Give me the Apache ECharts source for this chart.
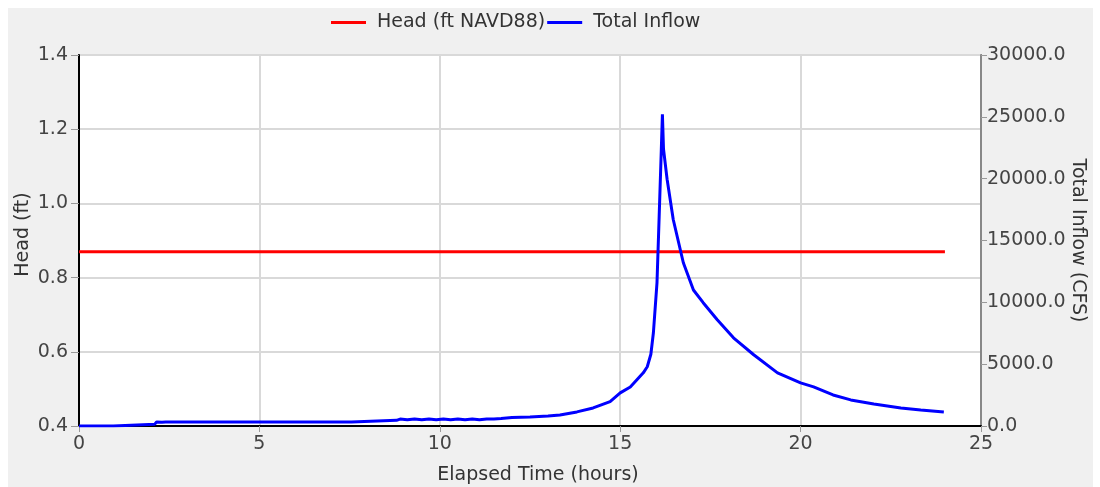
<!DOCTYPE html>
<html>
<head>
<meta charset="utf-8">
<script src="https://cdn.jsdelivr.net/npm/echarts@6/dist/echarts.min.js"></script>
<style>
  html, body { margin: 0; padding: 0; background: #fff; }
  #chart { position: absolute; left: 8px; top: 8px; width: 1085px; height: 479px; background: #f0f0f0; }
</style>
</head>
<body>
<div id="chart"></div>
<script>
// elapsed time (hours) and total inflow (CFS)
var hours = [0, 0.95, 1.0, 2.1, 2.15, 2.3, 2.4, 7.55, 7.6, 8.8, 8.9, 9.1, 9.3, 9.5, 9.7, 9.9,
    10.1, 10.3, 10.5, 10.7, 10.9, 11.1, 11.3, 11.5, 11.7, 12.0, 12.5, 13.0, 13.33, 13.8, 14.25,
    14.72, 15.0, 15.28, 15.64, 15.75, 15.85, 15.92, 16.02, 16.08, 16.14, 16.17, 16.2, 16.3,
    16.47, 16.75, 17.03, 17.3, 17.69, 18.14, 18.7, 19.36, 20.0, 20.36, 20.9, 21.39, 22.03,
    22.78, 23.33, 23.97];
var inflow = [0, 0, 150, 150, 320, 300, 320, 320, 450, 460, 560, 500, 570, 500, 570, 510,
    570, 510, 570, 510, 570, 510, 570, 560, 600, 680, 720, 800, 890, 1140, 1460,
    1970, 2680, 3160, 4300, 4790, 5800, 7540, 11600, 16950, 22400, 25200, 22400, 19950,
    16700, 13200, 11000, 9970, 8590, 7130, 5760, 4300, 3490, 3160, 2510, 2110, 1780,
    1460, 1300, 1130];
var headHours = [0, 24];
var head = [0.87, 0.87];

var font = '"DejaVu Sans", sans-serif';

var chart = echarts.init(document.getElementById('chart'));
chart.setOption({
    animation: false,
    textStyle: { fontFamily: font },
    legend: {
        top: 0,
        left: 318,
        itemGap: 2,
        itemWidth: 35,
        itemHeight: 3,
        icon: 'rect',
        textStyle: { fontSize: 19, color: '#333', fontFamily: font, padding: [0, 0, 0, 6] },
        data: ['Head (ft NAVD88)', 'Total Inflow']
    },
    grid: {
        left: 71,
        right: 112,
        top: 47,
        bottom: 61,
        outerBoundsMode: 'none',
        containLabel: false,
        show: true,
        backgroundColor: '#fff',
        borderColor: '#888',
        borderWidth: 2
    },
    xAxis: {
        type: 'value',
        min: 0,
        max: 25,
        interval: 5,
        name: 'Elapsed Time (hours)',
        nameLocation: 'middle',
        nameGap: 40,
        nameMoveOverlap: false,
        nameTextStyle: { fontSize: 19, color: '#333', padding: [0, 0, 0, 16] },
        axisLine: { lineStyle: { color: '#000', width: 2 } },
        axisTick: { show: true, length: 6, lineStyle: { color: '#999' } },
        axisLabel: { fontSize: 19, color: '#444', margin: 9 },
        splitLine: { show: true, lineStyle: { color: '#d9d9d9', width: 2 } }
    },
    yAxis: [{
        type: 'value',
        min: 0.4,
        max: 1.4,
        interval: 0.2,
        name: 'Head (ft)',
        nameLocation: 'middle',
        nameGap: 46,
        nameMoveOverlap: false,
        nameTextStyle: { fontSize: 19, color: '#333', padding: [0, 0, 0, 12] },
        axisLine: { show: true, lineStyle: { color: '#000', width: 2 } },
        axisTick: { show: true, length: 8, lineStyle: { color: '#999' } },
        axisLabel: {
            fontSize: 19, color: '#444', margin: 11,
            formatter: function (v) { return v.toFixed(1); }
        },
        splitLine: { show: true, lineStyle: { color: '#d9d9d9', width: 2 } }
    }, {
        type: 'value',
        position: 'right',
        min: 0,
        max: 30000,
        interval: 5000,
        name: 'Total Inflow (CFS)',
        nameLocation: 'middle',
        nameGap: 87,
        nameMoveOverlap: false,
        nameRotate: -90,
        nameTextStyle: { fontSize: 19, color: '#333' },
        axisLine: { show: true, lineStyle: { color: '#888', width: 2 } },
        axisTick: { show: true, length: 6, lineStyle: { color: '#999' } },
        axisLabel: {
            fontSize: 19, color: '#444', margin: 6,
            formatter: function (v) { return v.toFixed(1); }
        },
        splitLine: { show: false }
    }],
    series: [{
        name: 'Head (ft NAVD88)',
        type: 'line',
        yAxisIndex: 0,
        symbol: 'none',
        color: '#ff0000',
        lineStyle: { width: 3, color: '#ff0000' },
        data: headHours.map(function (h, i) { return [h, head[i]]; })
    }, {
        name: 'Total Inflow',
        type: 'line',
        yAxisIndex: 1,
        symbol: 'none',
        color: '#0000ff',
        lineStyle: { width: 3, color: '#0000ff' },
        data: hours.map(function (h, i) { return [h, inflow[i]]; })
    }]
});
</script>
</body>
</html>
